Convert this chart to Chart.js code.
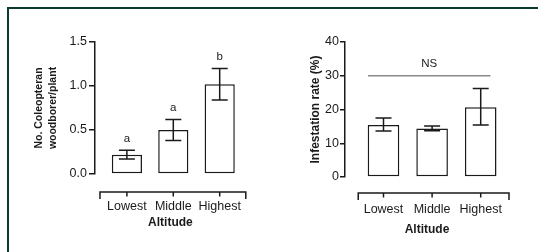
<!DOCTYPE html>
<html>
<head>
<meta charset="utf-8">
<script src="https://cdn.jsdelivr.net/npm/chart.js@4"></script>
<style>
  html, body { margin: 0; padding: 0; background: #fff; }
  #page { position: relative; width: 538px; height: 252px; overflow: hidden; }
  #frame { position: absolute; left: 7px; top: 7px; right: 0; bottom: 0;
           border-top: 2px solid #0b3a30; border-left: 2px solid #0b3a30; }
  .box { position: absolute; top: 0; width: 269px; height: 252px; }
</style>
</head>
<body>
<div id="page">
  <div id="frame"></div>
  <div class="box" style="left:0"><canvas id="borerChart"></canvas></div>
  <div class="box" style="left:269px"><canvas id="rateChart"></canvas></div>
</div>
<script>
const categories = ['Lowest', 'Middle', 'Highest'];

// left panel: woodborers per plant
const borerMean = [0.22, 0.50, 1.02];
const borerLow = [0.17, 0.38, 0.84];
const borerHigh = [0.27, 0.62, 1.20];
const borerLetters = ['a', 'a', 'b'];
const borerTicks = ['0.0', '0.5', '1.0', '1.5'];

// right panel: infestation rate
const rateMean = [15.4, 14.4, 20.7];
const rateLow = [13.6, 13.7, 15.4];
const rateHigh = [17.5, 15.1, 26.2];
const rateTicks = ['0', '10', '20', '30', '40'];
const nsLevel = 30;
const nsSpan = [-0.32, 2.2];
const nsLabel = 'NS';

const ink = '#1a1a1a';
const family = '"Liberation Sans", Arial, sans-serif';

// error bars + letters over each bar
const errorBars = {
    id: 'errorBars',
    afterDatasetsDraw(chart, args, opts) {
        const ctx = chart.ctx;
        const y = chart.scales.y;
        const meta = chart.getDatasetMeta(0);
        ctx.save();
        ctx.strokeStyle = ink;
        ctx.fillStyle = ink;
        ctx.lineWidth = 1.5;
        ctx.font = '11.5px ' + family;
        ctx.textAlign = 'center';
        meta.data.forEach((bar, i) => {
            const top = y.getPixelForValue(opts.high[i]);
            const bottom = y.getPixelForValue(opts.low[i]);
            ctx.beginPath();
            ctx.moveTo(bar.x, top);
            ctx.lineTo(bar.x, bottom);
            ctx.moveTo(bar.x - 8, top);
            ctx.lineTo(bar.x + 8, top);
            ctx.moveTo(bar.x - 8, bottom);
            ctx.lineTo(bar.x + 8, bottom);
            ctx.stroke();
            if (opts.letters) {
                ctx.fillText(opts.letters[i], bar.x, top - 8);
            }
        });
        if (opts.note) {
            const mid = (opts.note.span[0] + opts.note.span[1]) / 2;
            ctx.textBaseline = 'middle';
            ctx.fillText(opts.note.text, chart.scales.x.getPixelForValue(mid), y.getPixelForValue(opts.note.level) - 12);
        }
        ctx.restore();
    }
};

// detached x axis drawn as a bracket under the bars
const bracketAxis = {
    id: 'bracketAxis',
    afterDraw(chart, args, opts) {
        const ctx = chart.ctx;
        const x = chart.scales.x;
        const yLine = chart.chartArea.bottom + opts.gap;
        const x0 = x.getPixelForValue(opts.from);
        const x1 = chart.chartArea.right;
        ctx.save();
        ctx.strokeStyle = ink;
        ctx.lineWidth = 1.5;
        ctx.beginPath();
        ctx.moveTo(x0, yLine + 7);
        ctx.lineTo(x0, yLine);
        ctx.lineTo(x1, yLine);
        ctx.lineTo(x1, yLine + 7);
        categories.forEach((c, i) => {
            const px = x.getPixelForValue(i);
            ctx.moveTo(px, yLine);
            ctx.lineTo(px, yLine + 4.5);
        });
        ctx.stroke();
        ctx.restore();
    }
};

function makeChart(canvasId, p) {
    const datasets = [{
        type: 'bar',
        data: p.mean.map((v, i) => ({x: i, y: v})),
        backgroundColor: '#ffffff',
        borderColor: ink,
        borderWidth: 1.5,
        borderSkipped: false,
        barPercentage: 0.65,
        categoryPercentage: 1
    }];
    if (p.note) {
        datasets.push({
            type: 'line',
            data: p.note.span.map(v => ({x: v, y: p.note.level})),
            borderColor: '#8a8a8a',
            borderWidth: 1.5,
            pointRadius: 0
        });
    }

    new Chart(document.getElementById(canvasId), {
        type: 'bar',
        data: {datasets: datasets},
        options: {
            responsive: true,
            maintainAspectRatio: false,
            animation: false,
            layout: {padding: {top: p.top, right: p.right, bottom: 0, left: 0}},
            plugins: {
                legend: {display: false},
                tooltip: {enabled: false},
                errorBars: {low: p.low, high: p.high, letters: p.letters, note: p.note},
                bracketAxis: {gap: p.gap, from: p.bracketFrom}
            },
            scales: {
                x: {
                    type: 'linear',
                    offset: false,
                    min: p.xMin,
                    max: p.xMax,
                    afterBuildTicks: s => { s.ticks = categories.map((c, i) => ({value: i})); },
                    afterFit: s => { s.height = p.xHeight; },
                    grid: {display: false, drawTicks: false},
                    border: {display: false},
                    ticks: {
                        padding: 25,
                        color: ink,
                        font: {family: family, size: 12.5},
                        callback: v => categories[v]
                    },
                    title: {
                        display: true,
                        text: 'Altitude',
                        color: ink,
                        font: {family: family, size: 12, weight: 'bold'},
                        padding: {top: 0, bottom: p.xTitlePad}
                    }
                },
                y: {
                    min: 0,
                    max: Number(p.ticks[p.ticks.length - 1]),
                    afterBuildTicks: s => { s.ticks = p.ticks.map(t => ({value: Number(t)})); },
                    afterFit: s => { s.width = p.yWidth; },
                    grid: {drawOnChartArea: false, tickLength: p.tickLen, color: ink, lineWidth: 1.5},
                    border: {color: ink, width: 1.5},
                    ticks: {
                        padding: p.tickPad,
                        color: ink,
                        font: {family: family, size: 12.5},
                        callback: (v, i) => p.ticks[i]
                    },
                    title: {
                        display: true,
                        text: p.yTitle,
                        color: ink,
                        font: {family: family, size: p.yTitleSize, weight: 'bold', lineHeight: 1.4},
                        padding: {top: p.yTitlePad, bottom: 0}
                    }
                }
            }
        },
        plugins: [errorBars, bracketAxis]
    });
}

makeChart('borerChart', {
    mean: borerMean, low: borerLow, high: borerHigh, letters: borerLetters,
    ticks: borerTicks, yTitle: ['No. Coleopteran', 'woodborer/plant'], yTitleSize: 10.5,
    top: 42, right: 18, xHeight: 78, yWidth: 95,
    xMin: -0.6875, xMax: 2.5625, bracketFrom: -0.58, gap: 18,
    tickLen: 6, tickPad: 2, yTitlePad: 31.5, xTitlePad: 22
});

makeChart('rateChart', {
    mean: rateMean, low: rateLow, high: rateHigh,
    note: {level: nsLevel, span: nsSpan, text: nsLabel},
    ticks: rateTicks, yTitle: 'Infestation rate (%)', yTitleSize: 12,
    top: 42, right: 29, xHeight: 75, yWidth: 76,
    xMin: -0.792, xMax: 2.582, bracketFrom: -0.52, gap: 16,
    tickLen: 5, tickPad: 1, yTitlePad: 38, xTitlePad: 15
});
</script>
</body>
</html>
